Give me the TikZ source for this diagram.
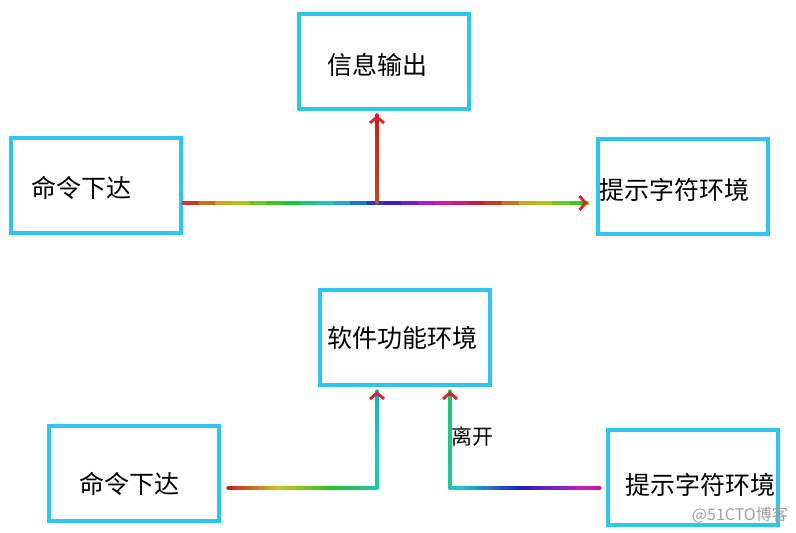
\documentclass[tikz,border=0pt]{standalone}
\usepackage{fontspec}
\setmainfont{Noto Sans CJK SC}
\usepackage{tikz}
\usetikzlibrary{positioning, arrows.meta, calc}
\definecolor{boxcyan}{HTML}{2EC6EE}
\definecolor{headcol}{HTML}{D8262E}

% tratto arcobaleno da #1 a #2, tinta da #3 a #4
\newcommand{\rainbowseg}[4]{%
  \foreach \i in {0,...,23}{
    \pgfmathsetmacro{\hh}{mod(#3+(#4-#3)*(\i+0.5)/24,360)}
    \definecolor{segcol}{Hsb}{\hh,0.85,0.78}
    \draw[rainbow, segcol] ($(#1)!\i/24!(#2)$) -- ($(#1)!{(\i+1)/24}!(#2)$);
  }}

\begin{document}
\begin{tikzpicture}[x=1pt, y=-1pt, font=\fontsize{25}{29}\selectfont,
  box/.style={draw=boxcyan, line width=4pt, minimum width=170pt, minimum height=95pt, inner sep=0pt},
  lbl/.style={inner sep=0pt, yshift=-3pt},
  rainbow/.style={line width=3.4pt, line cap=round},
  headred/.style={line width=3pt, headcol, -{Straight Barb[length=6pt, width=14pt]}}]
  \fill[white] (0,0) rectangle (796,533);
  \useasboundingbox (0,0) rectangle (796,533);

  % riquadri
  \node[box, label={[lbl, xshift=-7pt]center:信息输出}]      (out)  at (384,61.5)    {};
  \node[box, label={[lbl, xshift=-15pt]center:命令下达}]     (cmdA) at (96,185)      {};
  \node[box, label={[lbl, xshift=-8pt]center:提示字符环境}]  (envA) at (682.5,186.5) {};
  \node[box, label={[lbl, xshift=-2pt, yshift=3pt]center:软件功能环境}] (soft) at (404.5,337.5) {};
  \node[box, label={[lbl, xshift=-5pt, yshift=-7pt]center:命令下达}]     (cmdB) at (134,473.5)   {};
  \node[box, label={[lbl, xshift=7pt, yshift=-5pt]center:提示字符环境}]  (envB) at (693,477)     {};

  % schema in alto
  \coordinate (a0) at ([yshift=-18pt]cmdA.east);
  \path (a0 -| envA.west) ++(-8,0) coordinate (a1);
  \path ([xshift=-7pt]out.south) ++(0,4) coordinate (a3);
  \coordinate (a2) at (a0 -| a3);
  \rainbowseg{a0}{a1}{0}{480}
  \rainbowseg{a2}{a3}{15}{0}
  \draw[headred] ($(a1)+(-5,0)$) -- (a1);
  \draw[headred] ($(a3)+(0,5)$) -- (a3);

  % schema in basso
  \coordinate (b0) at ([xshift=7pt, yshift=-14.5pt]cmdB.east);
  \path ([xshift=-27.5pt]soft.south) ++(0,4) coordinate (b2);
  \coordinate (b1) at (b0 -| b2);
  \coordinate (c0) at ([xshift=-6pt, yshift=-11pt]envB.west);
  \path ([xshift=45.5pt]soft.south) ++(0,4) coordinate (c2);
  \coordinate (c1) at (c0 -| c2);
  \rainbowseg{b0}{b1}{0}{170}
  \rainbowseg{b1}{b2}{170}{190}
  \rainbowseg{c0}{c1}{320}{170}
  \rainbowseg{c1}{c2}{165}{150}
  \draw[headred] ($(b2)+(0,5)$) -- (b2);
  \draw[headred] ($(c2)+(0,5)$) -- (c2);
  \node[font=\fontsize{21}{24}\selectfont, anchor=west, inner sep=0pt] (leave) at ($(c2)+(1,45)$) {离开};

  % filigrana
  \node[font=\fontsize{16}{18}\selectfont, text=gray!75, anchor=east, inner sep=0pt] (mark) at (788,515) {@51CTO博客};
\end{tikzpicture}
\end{document}
